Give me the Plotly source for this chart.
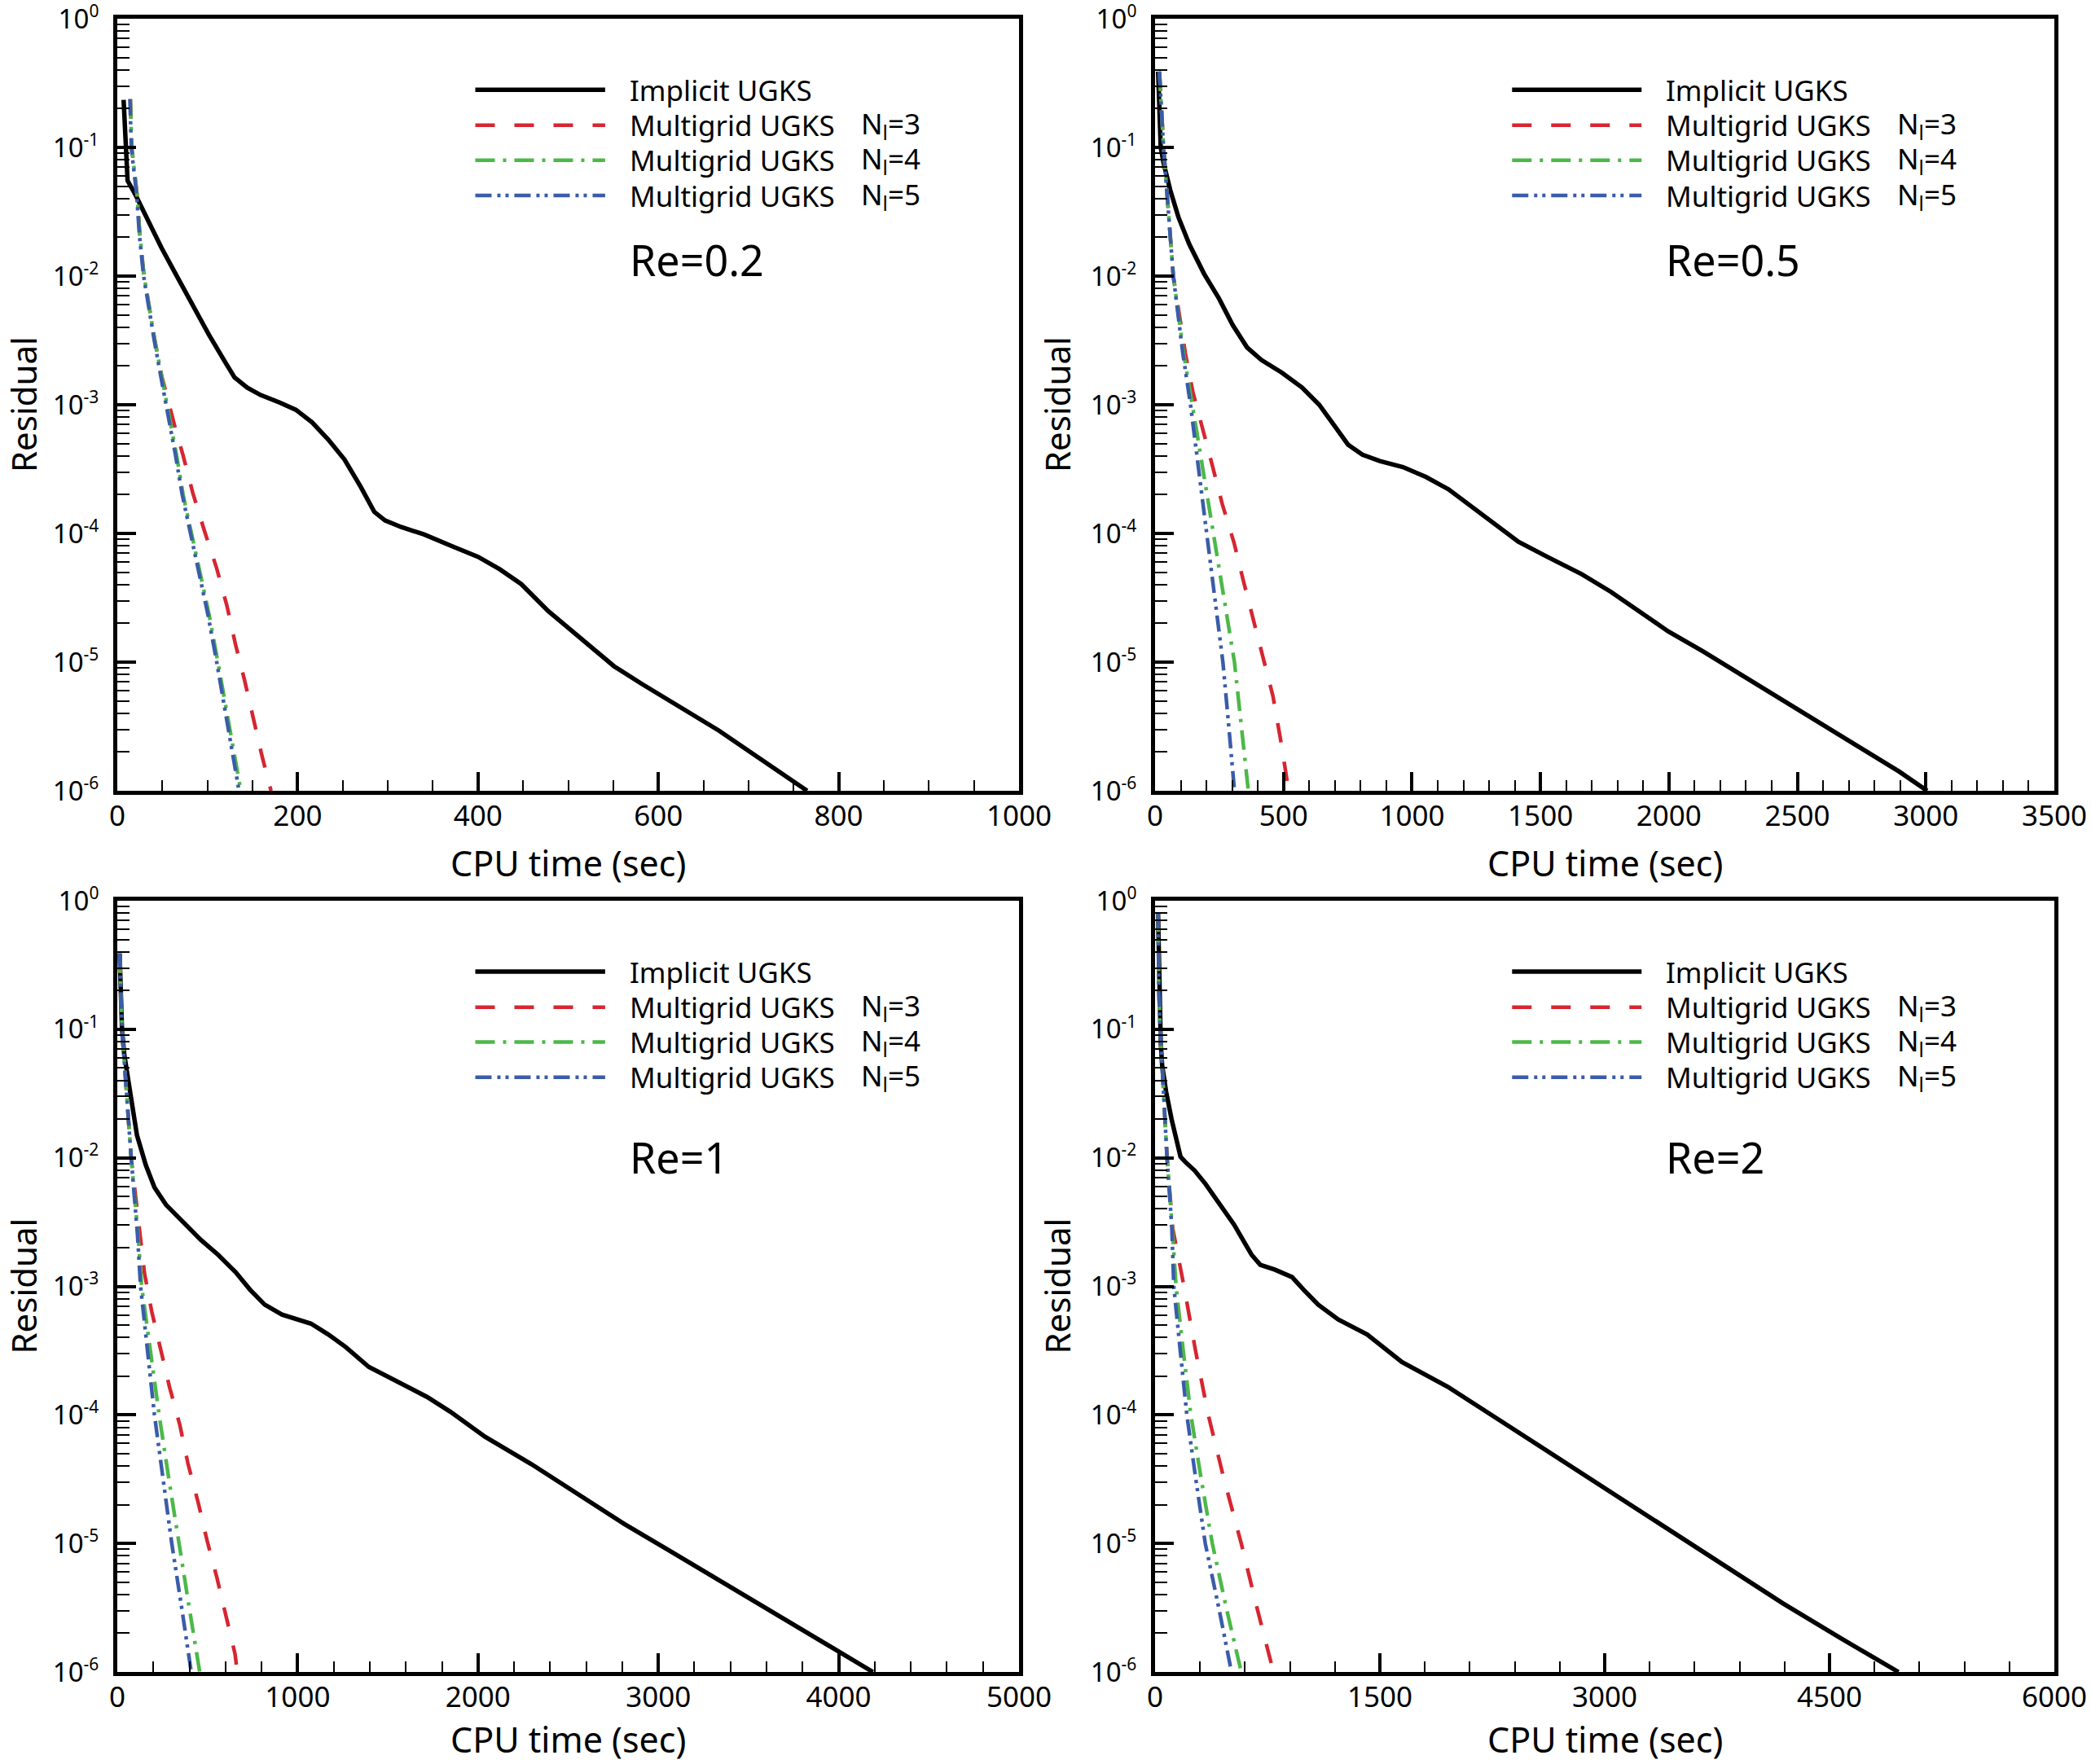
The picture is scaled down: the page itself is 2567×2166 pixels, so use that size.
import plotly.graph_objects as go

FONT = "Noto Sans"

# ---------------- data ----------------
re_labels = ["Re=0.2", "Re=0.5", "Re=1", "Re=2"]
legend_names = ["Implicit UGKS", "Multigrid UGKS", "Multigrid UGKS", "Multigrid UGKS"]
legend_levels = ["", "N<sub>l</sub>=3", "N<sub>l</sub>=4", "N<sub>l</sub>=5"]

x_max = [1000, 3500, 5000, 6000]
x_major = [[0, 200, 400, 600, 800, 1000],
           [0, 500, 1000, 1500, 2000, 2500, 3000, 3500],
           [0, 1000, 2000, 3000, 4000, 5000],
           [0, 1500, 3000, 4500, 6000]]
x_minor_step = [50, 100, 200, 300]
y_major = [1e-6, 1e-5, 1e-4, 1e-3, 1e-2, 1e-1, 1e0]
y_major_exp = ["-6", "-5", "-4", "-3", "-2", "-1", "0"]

# Re = 0.2
imp_t_02 = [7, 11.4, 20.5, 34, 49, 65.7, 83.7, 101.8, 119.9, 130, 144, 159, 180, 198, 216, 234,
            252, 270, 285, 297, 315, 340, 373, 400, 424, 448, 478, 515, 551, 582, 624, 667, 710, 765]
imp_r_02 = [0.234, 0.0552, 0.0423, 0.0270, 0.0166, 0.0101, 5.94e-3, 3.48e-3, 2.13e-3, 1.63e-3,
            1.36e-3, 1.19e-3, 1.04e-3, 9.14e-4, 7.31e-4, 5.36e-4, 3.75e-4, 2.30e-4, 1.47e-4,
            1.26e-4, 1.12e-4, 9.84e-5, 7.87e-5, 6.59e-5, 5.27e-5, 4.04e-5, 2.49e-5, 1.50e-5,
            9.27e-6, 6.75e-6, 4.46e-6, 2.94e-6, 1.83e-6, 1.0e-6]
mg3_t_02 = [14.5, 16, 22, 25, 29.5, 35.5, 41.6, 49, 57, 65, 73, 83.7, 96.4, 110, 121.4, 131, 141,
            150.6, 160.5, 170.5]
mg3_r_02 = [0.237, 0.1, 0.0423, 0.0209, 0.0102, 5.5e-3, 3.16e-3, 1.7e-3, 1.0e-3, 6.3e-4, 4.03e-4,
            2.07e-4, 1.06e-4, 5.42e-5, 2.77e-5, 1.38e-5, 7.3e-6, 3.63e-6, 1.86e-6, 1.0e-6]
mg4_t_02 = [14.5, 16, 22, 25, 29.5, 35.5, 41.6, 49, 56.6, 65.7, 73, 82, 92.8, 101.8, 110.8, 119.9,
            129, 137]
mg4_r_02 = [0.237, 0.1, 0.0423, 0.0209, 0.0102, 5.5e-3, 3.16e-3, 1.7e-3, 9.1e-4, 4.07e-4, 2.0e-4,
            1.0e-4, 4.37e-5, 2.34e-5, 1.07e-5, 4.79e-6, 2.14e-6, 1.0e-6]
mg5_t_02 = [14, 15.5, 21.5, 24.5, 29, 35, 41, 48, 55.5, 64.5, 72, 81, 91.5, 100.5, 109.5, 118.5,
            127, 135]
mg5_r_02 = [0.237, 0.1, 0.0423, 0.0209, 0.0102, 5.5e-3, 3.16e-3, 1.7e-3, 9.1e-4, 4.07e-4, 2.0e-4,
            1.0e-4, 4.37e-5, 2.34e-5, 1.07e-5, 4.79e-6, 2.14e-6, 1.0e-6]

# Re = 0.5
imp_t_05 = [12, 14, 17, 22, 33, 38, 59, 91, 133, 191, 249, 302, 358, 414, 493, 572, 639, 695, 751,
            807, 875, 965, 1055, 1144, 1234, 1324, 1414, 1526, 1661, 1773, 1886, 1998, 2133, 2290,
            2447, 2604, 2762, 2896, 3005]
imp_r_05 = [0.389, 0.251, 0.141, 0.1, 0.0759, 0.0687, 0.0467, 0.0287, 0.0177, 0.0104, 6.68e-3,
            4.17e-3, 2.79e-3, 2.23e-3, 1.78e-3, 1.36e-3, 1.0e-3, 7.0e-4, 4.9e-4, 4.09e-4, 3.65e-4,
            3.28e-4, 2.74e-4, 2.19e-4, 1.61e-4, 1.16e-4, 8.61e-5, 6.59e-5, 4.82e-5, 3.53e-5,
            2.47e-5, 1.73e-5, 1.21e-5, 7.76e-6, 4.97e-6, 3.18e-6, 2.04e-6, 1.41e-6, 1.0e-6]
mg3_t_05 = [17, 33, 71, 118, 147, 185, 224, 262, 307, 343, 381, 419, 459, 490, 520]
mg3_r_05 = [0.389, 0.1, 0.01, 2.51e-3, 1.26e-3, 6.31e-4, 3.31e-4, 1.68e-4, 8.51e-5, 4.34e-5,
            2.16e-5, 1.11e-5, 5.43e-6, 2.4e-6, 1.0e-6]
mg4_t_05 = [17, 33, 71, 111, 145, 186, 228, 268, 309, 336, 363]
mg4_r_05 = [0.389, 0.1, 0.01, 2.51e-3, 1.0e-3, 3.16e-4, 1.0e-4, 3.16e-5, 1.0e-5, 3.16e-6, 1.0e-6]
mg5_t_05 = [17, 33, 71, 108, 138, 170, 201, 233, 264, 287, 309]
mg5_r_05 = [0.389, 0.1, 0.01, 2.51e-3, 1.0e-3, 3.16e-4, 1.0e-4, 3.16e-5, 1.0e-5, 3.16e-6, 1.0e-6]

# Re = 1
imp_t_1 = [13, 20, 26, 39, 71, 109, 158, 206, 270, 367, 463, 559, 656, 736, 817, 913, 1074, 1170,
           1267, 1395, 1524, 1717, 1846, 2039, 2296, 2553, 2810, 3068, 3325, 3582, 3839, 4000, 4190]
imp_r_1 = [0.389, 0.178, 0.1, 0.0631, 0.0307, 0.0150, 8.79e-3, 5.89e-3, 4.31e-3, 3.15e-3,
           2.30e-3, 1.76e-3, 1.29e-3, 9.42e-4, 7.21e-4, 6.03e-4, 5.13e-4, 4.22e-4, 3.37e-4,
           2.36e-4, 1.89e-4, 1.38e-4, 1.06e-4, 6.76e-5, 4.14e-5, 2.42e-5, 1.42e-5, 8.67e-6,
           5.31e-6, 3.24e-6, 1.99e-6, 1.45e-6, 1.0e-6]
mg3_t_1 = [13, 26, 77, 125, 151, 190, 238, 289, 347, 392, 450, 498, 553, 604, 653, 665]
mg3_r_1 = [0.389, 0.1, 0.01, 2.51e-3, 1.26e-3, 6.46e-4, 3.24e-4, 1.66e-4, 8.32e-5, 4.17e-5,
           2.04e-5, 1.05e-5, 5.37e-6, 2.69e-6, 1.38e-6, 1.0e-6]
mg4_t_1 = [13, 26, 77, 115, 135, 183, 232, 286, 341, 399, 457]
mg4_r_1 = [0.389, 0.1, 0.01, 2.51e-3, 1.0e-3, 3.16e-4, 1.0e-4, 3.16e-5, 1.0e-5, 3.16e-6, 1.0e-6]
mg5_t_1 = [13, 26, 77, 112, 129, 167, 206, 254, 302, 357, 410]
mg5_r_1 = [0.389, 0.1, 0.01, 2.51e-3, 1.0e-3, 3.16e-4, 1.0e-4, 3.16e-5, 1.0e-5, 3.16e-6, 1.0e-6]

# Re = 2
imp_t_2 = [20, 24, 28, 38, 47, 74, 110, 147, 170, 200, 264, 337, 413, 528, 644, 702, 798, 914, 991,
           1088, 1222, 1415, 1647, 1955, 2264, 2649, 3035, 3421, 3806, 4192, 4578, 4960]
imp_r_2 = [0.794, 0.355, 0.178, 0.0794, 0.0528, 0.0326, 0.0200, 0.0136, 0.0102, 9.33e-3,
           7.96e-3, 6.25e-3, 4.71e-3, 3.01e-3, 1.76e-3, 1.47e-3, 1.35e-3, 1.18e-3, 9.42e-4,
           7.21e-4, 5.52e-4, 4.22e-4, 2.58e-4, 1.65e-4, 9.66e-5, 4.94e-5, 2.53e-5, 1.29e-5,
           6.62e-6, 3.40e-6, 1.82e-6, 1.0e-6]
mg3_t_2 = [20, 25, 34, 47, 65, 80, 118, 193, 270, 355, 460, 575, 680, 790]
mg3_r_2 = [0.812, 0.206, 0.1, 0.0479, 0.02, 0.01, 2.82e-3, 1.0e-3, 3.16e-4, 1.0e-4, 3.16e-5,
           1.0e-5, 3.16e-6, 1.0e-6]
mg4_t_2 = [20, 25, 34, 47, 65, 80, 115, 140, 188, 239, 308, 382, 475, 575]
mg4_r_2 = [0.812, 0.206, 0.1, 0.0479, 0.02, 0.01, 2.82e-3, 1.0e-3, 3.16e-4, 1.0e-4, 3.16e-5,
           1.0e-5, 3.16e-6, 1.0e-6]
mg5_t_2 = [20, 25, 34, 47, 65, 80, 112, 125, 168, 212, 272, 335, 425, 510]
mg5_r_2 = [0.812, 0.206, 0.1, 0.0479, 0.02, 0.01, 2.82e-3, 1.0e-3, 3.16e-4, 1.0e-4, 3.16e-5,
           1.0e-5, 3.16e-6, 1.0e-6]

panels = [
    [(imp_t_02, imp_r_02), (mg3_t_02, mg3_r_02), (mg4_t_02, mg4_r_02), (mg5_t_02, mg5_r_02)],
    [(imp_t_05, imp_r_05), (mg3_t_05, mg3_r_05), (mg4_t_05, mg4_r_05), (mg5_t_05, mg5_r_05)],
    [(imp_t_1, imp_r_1), (mg3_t_1, mg3_r_1), (mg4_t_1, mg4_r_1), (mg5_t_1, mg5_r_1)],
    [(imp_t_2, imp_r_2), (mg3_t_2, mg3_r_2), (mg4_t_2, mg4_r_2), (mg5_t_2, mg5_r_2)],
]

# ---------------- styling ----------------
W, H = 2567, 2166
series_colors = ["black", "#d62631", "#4cb848", "#3a5ca9"]
series_dash = ["solid", "24px,24px", "24px,10px,4px,10px", "20px,7px,4px,6px,4px,7px"]
series_width = [5.5, 4.5, 4.5, 4.5]

x_domains = [[144 / W, 1251 / W], [1418 / W, 2522 / W]]
y_domains = [[1 - 971 / H, 1 - 23 / H], [1 - 2053 / H, 1 - 1106 / H]]

y_major_text = ["10<sup><span style='font-size:21px'>%s</span></sup>" % e for e in y_major_exp]

fig = go.Figure()
layout = dict(width=W, height=H, margin=dict(l=0, r=0, t=0, b=0, pad=0, autoexpand=False),
              autosize=False, paper_bgcolor="white", plot_bgcolor="white", showlegend=False,
              font=dict(family=FONT, color="black"))
shapes, annotations = [], []

legend_rows = [0.908, 0.862, 0.8167, 0.771]
re_y = [0.688, 0.688, 0.668, 0.668]

for i, series in enumerate(panels):
    col, row = i % 2, i // 2
    sfx = "" if i == 0 else str(i + 1)
    for k, (t, r) in enumerate(series):
        fig.add_trace(go.Scatter(
            x=t, y=r, mode="lines", xaxis="x" + sfx, yaxis="y" + sfx,
            line=dict(color=series_colors[k], width=series_width[k], dash=series_dash[k]),
            name=(legend_names[k] + " " + legend_levels[k]).strip(), hoverinfo="skip"))

    minor_x = [v for v in range(0, x_max[i] + 1, x_minor_step[i]) if v not in x_major[i]]
    minor_y = [m * 10.0 ** e for e in range(-6, 0) for m in range(2, 10)]
    layout["xaxis" + sfx] = dict(
        domain=x_domains[col], anchor="y" + sfx, range=[0, x_max[i]], automargin=False,
        tickmode="array", tickvals=x_major[i], ticktext=[str(v) for v in x_major[i]],
        ticks="inside", ticklen=23, tickwidth=4, tickcolor="black",
        minor=dict(tickmode="array", tickvals=minor_x, ticks="inside", ticklen=13,
                   tickwidth=2, tickcolor="black"),
        showline=True, linewidth=5, linecolor="black", mirror=True,
        showgrid=False, zeroline=False, ticklabelstandoff=-4, ticklabeloverflow="allow",
        tickfont=dict(family=FONT, size=35, color="black"))
    layout["yaxis" + sfx] = dict(
        domain=y_domains[row], anchor="x" + sfx, type="log", range=[-6, 0], automargin=False,
        tickmode="array", tickvals=y_major, ticktext=y_major_text,
        ticks="inside", ticklen=23, tickwidth=4, tickcolor="black",
        minor=dict(tickmode="array", tickvals=minor_y, ticks="inside", ticklen=15,
                   tickwidth=2, tickcolor="black"),
        showline=True, linewidth=5, linecolor="black", mirror=True,
        showgrid=False, zeroline=False, ticklabelstandoff=11, ticklabeloverflow="allow",
        tickfont=dict(family=FONT, size=33, color="black"))

    xr, yr = "x" + sfx + " domain", "y" + sfx + " domain"
    for k in range(4):
        shapes.append(dict(type="line", xref=xr, yref=yr, x0=0.397, x1=0.541,
                           y0=legend_rows[k], y1=legend_rows[k],
                           line=dict(color=series_colors[k], width=series_width[k],
                                     dash=series_dash[k])))
        annotations.append(dict(text=legend_names[k], xref=xr, yref=yr, x=0.566,
                                y=legend_rows[k], xanchor="left", yanchor="middle",
                                showarrow=False, font=dict(family=FONT, size=35, color="black")))
        if legend_levels[k]:
            annotations.append(dict(text=legend_levels[k], xref=xr, yref=yr, x=0.823,
                                    y=legend_rows[k], xanchor="left", yanchor="middle",
                                    showarrow=False,
                                    font=dict(family=FONT, size=35, color="black")))
    annotations.append(dict(text=re_labels[i], xref=xr, yref=yr, x=0.566, y=re_y[i],
                            xanchor="left", yanchor="middle", showarrow=False,
                            font=dict(family=FONT, size=52, color="black")))

    # axis titles
    xc = (x_domains[col][0] + x_domains[col][1]) / 2
    yc = (y_domains[row][0] + y_domains[row][1]) / 2
    title_y = (1 - 1059 / H) if row == 0 else (1 - 2135 / H)
    annotations.append(dict(text="CPU time (sec)", xref="paper", yref="paper", x=xc, y=title_y,
                            xanchor="center", yanchor="middle", showarrow=False,
                            font=dict(family=FONT, size=43, color="black")))
    res_x = 28 / W if col == 0 else 1297 / W
    annotations.append(dict(text="Residual", xref="paper", yref="paper", x=res_x, y=yc,
                            xanchor="center", yanchor="middle", showarrow=False, textangle=-90,
                            font=dict(family=FONT, size=42, color="black")))

layout["shapes"] = shapes
layout["annotations"] = annotations
fig.update_layout(**layout)
fig.write_html("out.html")
